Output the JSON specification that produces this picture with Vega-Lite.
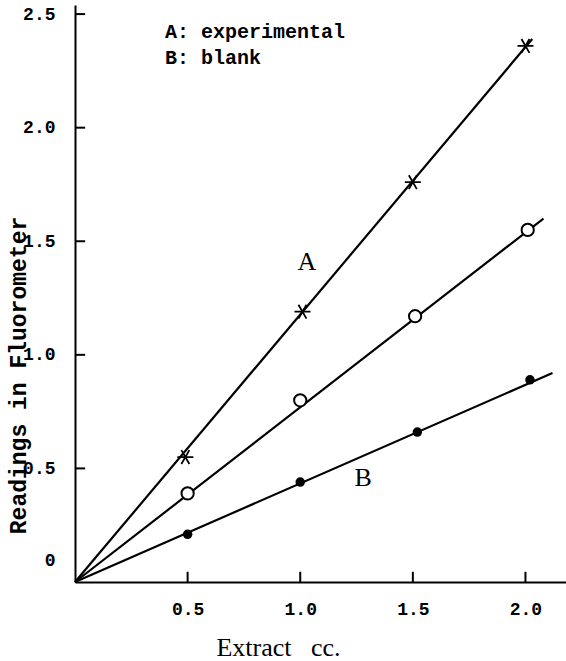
{
  "$schema": "https://vega.github.io/schema/vega-lite/v6.json",
  "autosize": "none",
  "width": 491,
  "height": 577,
  "padding": {"left": 75, "top": 5, "right": 0, "bottom": 79},
  "background": "white",
  "config": {"view": {"stroke": null}},
  "datasets": {
    "lines": [
      {"series": "A", "x": 0, "y": 0}, {"series": "A", "x": 2.03, "y": 2.39},
      {"series": "O", "x": 0, "y": 0}, {"series": "O", "x": 2.08, "y": 1.60},
      {"series": "B", "x": 0, "y": 0}, {"series": "B", "x": 2.12, "y": 0.92}
    ],
    "xticks": [
      {"x": 0.5, "y": 0, "y2": 0.045}, {"x": 1.0, "y": 0, "y2": 0.045},
      {"x": 1.5, "y": 0, "y2": 0.045}, {"x": 2.0, "y": 0, "y2": 0.045}
    ],
    "yticks": [
      {"y": 0.5, "x": 0, "x2": 0.045}, {"y": 1.0, "x": 0, "x2": 0.045},
      {"y": 1.5, "x": 0, "x2": 0.045}, {"y": 2.0, "x": 0, "x2": 0.045},
      {"y": 2.5, "x": 0, "x2": 0.045}
    ],
    "stars": [
      {"x": 0.49, "y": 0.55}, {"x": 1.01, "y": 1.19}, {"x": 1.5, "y": 1.76}, {"x": 2.0, "y": 2.36}
    ],
    "circles": [
      {"x": 0.5, "y": 0.39}, {"x": 1.0, "y": 0.80}, {"x": 1.51, "y": 1.17}, {"x": 2.01, "y": 1.55}
    ],
    "dots": [
      {"x": 0.5, "y": 0.21}, {"x": 1.0, "y": 0.44}, {"x": 1.52, "y": 0.66}, {"x": 2.02, "y": 0.89}
    ],
    "legend": [
      {"x": 0.4, "y": 2.42, "text": "A: experimental"},
      {"x": 0.4, "y": 2.305, "text": "B: blank"}
    ],
    "labels": [
      {"x": 1.03, "y": 1.41, "text": "A"},
      {"x": 1.28, "y": 0.46, "text": "B"}
    ]
  },
  "layer": [
    {
      "data": {"name": "lines"},
      "mark": {"type": "line", "color": "black", "strokeWidth": 2.2},
      "encoding": {
        "x": {
          "field": "x", "type": "quantitative",
          "scale": {"domain": [0, 2.18], "nice": false, "zero": false},
          "axis": {
            "values": [0.5, 1, 1.5, 2],
            "format": ".1f",
            "grid": false,
            "ticks": false,
            "domainColor": "black", "domainWidth": 2,
            "labelPadding": 18,
            "labelFont": "Liberation Mono", "labelFontWeight": "bold", "labelFontSize": 18, "labelColor": "black",
            "title": "Extract\u00a0\u00a0\u00a0cc.",
            "titleFont": "Liberation Serif", "titleFontWeight": "normal", "titleFontSize": 26, "titleColor": "black",
            "titleX": 203, "titleY": 65, "titleAlign": "center", "titleBaseline": "middle"
          }
        },
        "y": {
          "field": "y", "type": "quantitative",
          "scale": {"domain": [0, 2.54], "nice": false, "zero": false},
          "axis": {
            "values": [0, 0.5, 1, 1.5, 2, 2.5],
            "labelExpr": "datum.value == 0 ? '0' : format(datum.value, '.1f')",
            "grid": false,
            "ticks": false,
            "domainColor": "black", "domainWidth": 2,
            "labelPadding": 20,
            "labelOffset": {"condition": {"test": "datum.value == 0", "value": -22}, "value": 0},
            "labelFont": "Liberation Mono", "labelFontWeight": "bold", "labelFontSize": 18, "labelColor": "black",
            "title": "Readings in Fluorometer",
            "titleFont": "Liberation Mono", "titleFontWeight": "bold", "titleFontSize": 23, "titleColor": "black",
            "titleAngle": -90, "titleX": -57, "titleY": 370, "titleAlign": "center", "titleBaseline": "middle"
          }
        },
        "detail": {"field": "series", "type": "nominal"}
      }
    },
    {
      "data": {"name": "xticks"},
      "mark": {"type": "rule", "color": "black", "strokeWidth": 2},
      "encoding": {
        "x": {"field": "x", "type": "quantitative"},
        "y": {"field": "y", "type": "quantitative"},
        "y2": {"field": "y2"}
      }
    },
    {
      "data": {"name": "yticks"},
      "mark": {"type": "rule", "color": "black", "strokeWidth": 2},
      "encoding": {
        "y": {"field": "y", "type": "quantitative"},
        "x": {"field": "x", "type": "quantitative"},
        "x2": {"field": "x2"}
      }
    },
    {
      "data": {"name": "stars"},
      "mark": {"type": "point", "shape": "M-1,0L1,0M-0.5,-0.87L0.5,0.87M0.5,-0.87L-0.5,0.87", "size": 256, "stroke": "black", "strokeWidth": 1.8, "filled": false, "opacity": 1},
      "encoding": {
        "x": {"field": "x", "type": "quantitative"},
        "y": {"field": "y", "type": "quantitative"}
      }
    },
    {
      "data": {"name": "circles"},
      "mark": {"type": "point", "shape": "circle", "size": 150, "stroke": "black", "strokeWidth": 2, "fill": "white", "filled": true, "opacity": 1, "fillOpacity": 1},
      "encoding": {
        "x": {"field": "x", "type": "quantitative"},
        "y": {"field": "y", "type": "quantitative"}
      }
    },
    {
      "data": {"name": "dots"},
      "mark": {"type": "point", "shape": "circle", "size": 90, "fill": "black", "filled": true, "opacity": 1, "fillOpacity": 1},
      "encoding": {
        "x": {"field": "x", "type": "quantitative"},
        "y": {"field": "y", "type": "quantitative"}
      }
    },
    {
      "data": {"name": "legend"},
      "mark": {"type": "text", "align": "left", "baseline": "middle", "font": "Liberation Mono", "fontWeight": "bold", "fontSize": 20, "color": "black"},
      "encoding": {
        "x": {"field": "x", "type": "quantitative"},
        "y": {"field": "y", "type": "quantitative"},
        "text": {"field": "text"}
      }
    },
    {
      "data": {"name": "labels"},
      "mark": {"type": "text", "align": "center", "baseline": "middle", "font": "Liberation Serif", "fontSize": 26, "color": "black"},
      "encoding": {
        "x": {"field": "x", "type": "quantitative"},
        "y": {"field": "y", "type": "quantitative"},
        "text": {"field": "text"}
      }
    }
  ]
}
